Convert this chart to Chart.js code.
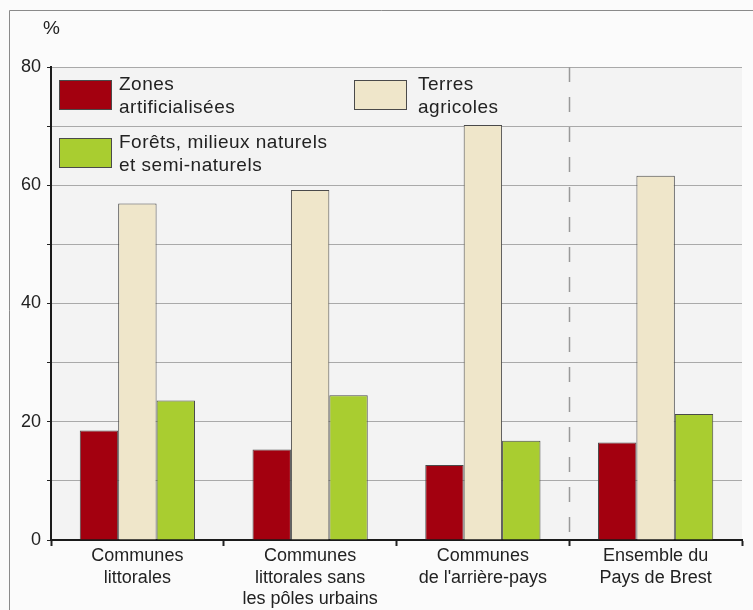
<!DOCTYPE html>
<html>
<head>
<meta charset="utf-8">
<script src="https://cdn.jsdelivr.net/npm/chart.js@4/dist/chart.umd.min.js"></script>
<style>
  html, body { margin: 0; padding: 0; background: #fbfbfb; }
  #wrap { width: 753px; height: 610px; position: relative; }
</style>
</head>
<body>
<div id="wrap"><canvas id="c" width="753" height="610"></canvas></div>
<script>
// categories (multi-line tick labels)
var categories = [
  ['Communes', 'littorales'],
  ['Communes', 'littorales sans', 'les pôles urbains'],
  ['Communes', "de l'arrière-pays"],
  ['Ensemble du', 'Pays de Brest']
];

// legend text, one array of lines per series
var seriesNames = [
  ['Zones', 'artificialisées'],
  ['Terres', 'agricoles'],
  ['Forêts, milieux naturels', 'et semi-naturels']
];

// values in %
var zonesArtificialisees = [18.5, 15.3, 12.7, 16.5];
var terresAgricoles = [56.9, 59.2, 70.2, 61.6];
var foretsMilieux = [23.6, 24.5, 16.8, 21.3];

var colors = ['#a3000f', '#efe6ca', '#a9cd30'];
var FONT = '"Liberation Sans", Arial, sans-serif';

// frame, plot background, dashed separator, "%" and legend
var decor = {
  id: 'decor',
  beforeDraw: function(chart) {
    var ctx = chart.ctx, a = chart.chartArea;
    ctx.save();
    ctx.fillStyle = '#fbfbfb';
    ctx.fillRect(0, 0, chart.width, chart.height);
    ctx.strokeStyle = '#8a8a8a';
    ctx.lineWidth = 1;
    ctx.beginPath();
    ctx.moveTo(9.5, chart.height);
    ctx.lineTo(9.5, 10.5);
    ctx.lineTo(chart.width, 10.5);
    ctx.stroke();
    ctx.fillStyle = '#f3f3f3';
    ctx.fillRect(a.left, a.top, a.right - a.left, a.bottom - a.top);
    ctx.restore();
  },
  beforeDatasetsDraw: function(chart) {
    var ctx = chart.ctx, a = chart.chartArea, x = chart.scales.x;
    var sx = Math.round((x.getPixelForValue(2) + x.getPixelForValue(3)) / 2) + 0.5;
    ctx.save();
    ctx.strokeStyle = '#999';
    ctx.lineWidth = 1.5;
    ctx.setLineDash([15, 15]);
    ctx.beginPath();
    ctx.moveTo(sx, a.top);
    ctx.lineTo(sx, a.bottom);
    ctx.stroke();
    ctx.restore();
  },
  afterDraw: function(chart) {
    var ctx = chart.ctx, a = chart.chartArea;
    ctx.save();
    ctx.fillStyle = '#222';
    ctx.font = '19px ' + FONT;
    ctx.textBaseline = 'middle';
    ctx.textAlign = 'left';
    ctx.fillText('%', 43, 29);

    var spots = [
      { bx: 8, by: 13, tx: 68 },
      { bx: 303, by: 13, tx: 367 },
      { bx: 8, by: 71, tx: 68 }
    ];
    ctx.letterSpacing = '0.5px';
    chart.data.datasets.forEach(function(ds, i) {
      var s = spots[i];
      ctx.fillStyle = ds.backgroundColor;
      ctx.strokeStyle = '#4a4a4a';
      ctx.lineWidth = 1;
      ctx.fillRect(a.left + s.bx, a.top + s.by, 52, 29);
      ctx.strokeRect(a.left + s.bx + 0.5, a.top + s.by + 0.5, 52, 29);
      ctx.fillStyle = '#222';
      ds.legendLines.forEach(function(line, j) {
        ctx.fillText(line, a.left + s.tx, a.top + s.by + 5 + j * 23);
      });
    });
    ctx.restore();
  }
};

var datasets = [zonesArtificialisees, terresAgricoles, foretsMilieux].map(function(vals, i) {
  return {
    label: seriesNames[i].join(' '),
    legendLines: seriesNames[i],
    data: vals,
    backgroundColor: colors[i],
    borderColor: '#4a4a4a',
    borderWidth: 1,
    categoryPercentage: 0.667,
    barPercentage: 1.0
  };
});

new Chart(document.getElementById('c'), {
  type: 'bar',
  data: { labels: categories, datasets: datasets },
  options: {
    responsive: false,
    animation: false,
    layout: { padding: { top: 67, right: 11, left: 0, bottom: 0 } },
    plugins: { legend: { display: false }, tooltip: { enabled: false } },
    scales: {
      x: {
        afterFit: function(s) { s.height = 70; },
        grid: { display: true, drawOnChartArea: false, offset: true, tickLength: 6, tickColor: '#222', tickWidth: 2 },
        border: { color: '#1a1a1a', width: 2 },
        ticks: { color: '#222', font: { family: FONT, size: 18, lineHeight: 1.17 }, padding: 0, maxRotation: 0, autoSkip: false }
      },
      y: {
        min: 0,
        max: 80,
        afterFit: function(s) { s.width = 51; },
        grid: { color: '#a9a9a9', tickColor: '#222', tickLength: 4, lineWidth: 1 },
        border: { color: '#1a1a1a', width: 2 },
        ticks: {
          stepSize: 10,
          color: '#222',
          font: { family: FONT, size: 18 },
          padding: 6,
          callback: function(v) { return v % 20 === 0 ? v : ''; }
        }
      }
    }
  },
  plugins: [decor]
});
</script>
</body>
</html>
